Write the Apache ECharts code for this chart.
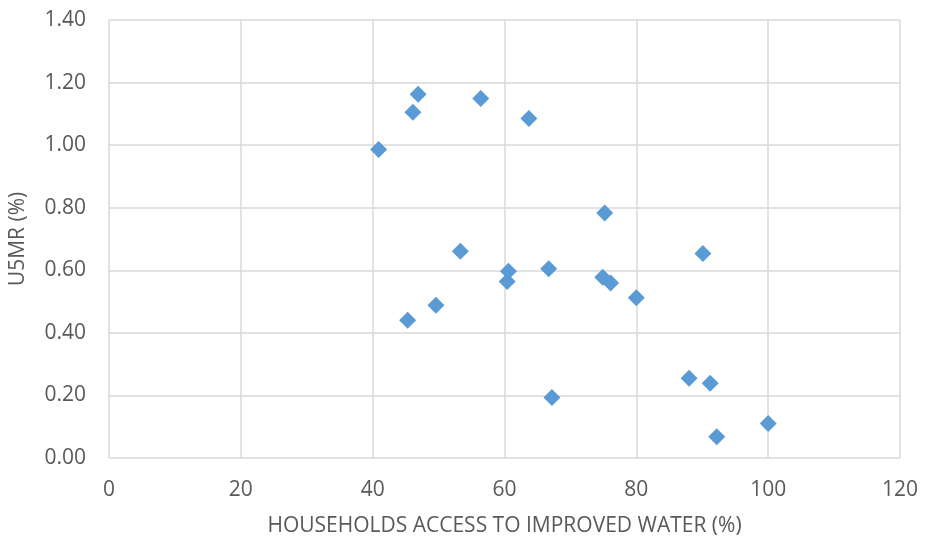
<!DOCTYPE html>
<html>
<head>
<meta charset="utf-8">
<script src="https://cdn.jsdelivr.net/npm/echarts@6/dist/echarts.min.js"></script>
<style>
  html, body { margin: 0; padding: 0; background: #ffffff; }
  #chart { width: 936px; height: 542px; }
</style>
</head>
<body>
<div id="chart"></div>
<script>
// Household access to improved water (%) vs. under-five mortality rate (%)
var waterAccess = [40.9, 46.1, 46.9, 56.4, 63.7, 75.2, 53.3, 60.6, 60.4, 66.7, 74.9, 76.1, 80.0, 90.1, 49.6, 45.3, 67.2, 88.0, 91.2, 92.2, 100.0];
var u5mr        = [0.986, 1.105, 1.163, 1.149, 1.085, 0.783, 0.661, 0.597, 0.564, 0.605, 0.578, 0.559, 0.512, 0.654, 0.488, 0.440, 0.193, 0.255, 0.239, 0.068, 0.110];

var xTitle = 'HOUSEHOLDS ACCESS TO IMPROVED WATER (%)';
var yTitle = 'U5MR (%)';

var points = waterAccess.map(function (x, i) { return [x, u5mr[i]]; });

var font = 'Open Sans, Lato, sans-serif';
var textColor = '#595959';
var gridColor = '#d9d9d9';

var chart = echarts.init(document.getElementById('chart'));
chart.setOption({
  backgroundColor: '#ffffff',
  animation: false,
  grid: { left: 109, right: 36, top: 20, bottom: 82 },
  xAxis: {
    type: 'value',
    min: 0, max: 120, interval: 20,
    name: xTitle,
    nameLocation: 'middle',
    nameGap: 58,
    nameTextStyle: { color: textColor, fontSize: 21, fontFamily: font },
    axisLine: { show: false },
    axisTick: { show: false },
    axisLabel: { color: textColor, fontSize: 21, fontFamily: font, margin: 22 },
    splitLine: { show: true, lineStyle: { color: gridColor, width: 1.5 } }
  },
  yAxis: {
    type: 'value',
    min: 0, max: 1.4, interval: 0.2,
    name: yTitle,
    nameLocation: 'middle',
    nameGap: 80,
    nameRotate: 90,
    nameTextStyle: { color: textColor, fontSize: 21, fontFamily: font },
    axisLine: { show: false },
    axisTick: { show: false },
    axisLabel: {
      color: textColor, fontSize: 21, fontFamily: font, margin: 23,
      formatter: function (v) { return v.toFixed(2); }
    },
    splitLine: { show: true, lineStyle: { color: gridColor, width: 1.5 } }
  },
  series: [{
    type: 'scatter',
    data: points,
    symbol: 'diamond',
    symbolSize: 17,
    itemStyle: { color: '#5b9bd5', opacity: 1 }
  }]
});
</script>
</body>
</html>
